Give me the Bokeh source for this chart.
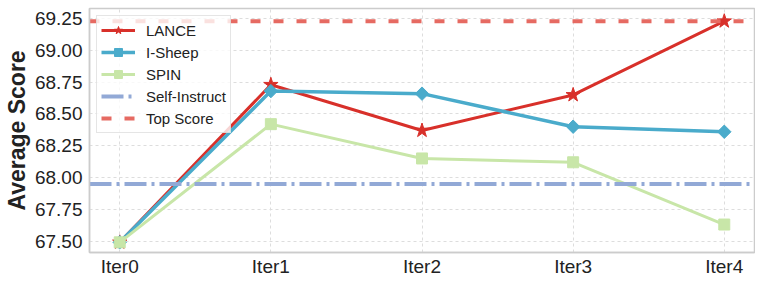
from bokeh.plotting import figure
from bokeh.models import Range1d, FixedTicker
from bokeh.embed import file_html
from bokeh.resources import INLINE
import math

iters = ["Iter0", "Iter1", "Iter2", "Iter3", "Iter4"]
lance = [67.49, 68.73, 68.37, 68.65, 69.23]
isheep = [67.49, 68.68, 68.66, 68.40, 68.36]
spin = [67.49, 68.42, 68.15, 68.12, 67.63]
self_instruct = 67.95
top_score = 69.23
yticks = [67.50, 67.75, 68.00, 68.25, 68.50, 68.75, 69.00, 69.25]

xs = list(range(len(iters)))
x0, x1 = -0.2, len(iters) - 1 + 0.2

p = figure(frame_width=665, frame_height=244, output_backend="svg", toolbar_location=None,
           x_range=Range1d(x0, x1), y_range=Range1d(67.41, 69.33),
           min_border_left=82, min_border_right=1, min_border_top=8, min_border_bottom=0)

p.background_fill_color = "white"
p.outline_line_color = "#cccccc"
p.outline_line_width = 1.5

# grid
for g in (p.xgrid, p.ygrid):
    g.grid_line_color = "#dddddd"
    g.grid_line_dash = "3 3"
    g.grid_line_width = 1
p.xgrid.ticker = FixedTicker(ticks=xs)
p.ygrid.ticker = FixedTicker(ticks=yticks)

# axes
p.xaxis.ticker = FixedTicker(ticks=xs)
p.xaxis.major_label_overrides = {i: s for i, s in enumerate(iters)}
p.yaxis.ticker = FixedTicker(ticks=yticks)
p.yaxis.major_label_overrides = {t: f"{t:.2f}" for t in yticks}
for ax in (p.xaxis, p.yaxis):
    ax.axis_line_color = "#cccccc"
    ax.axis_line_width = 1.5
    ax.major_tick_line_color = None
    ax.minor_tick_line_color = None
    ax.major_tick_out = 0
    ax.major_tick_in = 0
    ax.minor_tick_out = 0
    ax.minor_tick_in = 0
    ax.major_label_text_font = "Liberation Sans"
    ax.major_label_text_font_size = "19px"
    ax.major_label_text_color = "#222222"
p.xaxis.major_label_standoff = 3
p.yaxis.major_label_standoff = 7
p.yaxis.axis_label = "Average Score"
p.yaxis.axis_label_text_font = "Liberation Sans"
p.yaxis.axis_label_text_font_size = "23px"
p.yaxis.axis_label_text_font_style = "bold"
p.yaxis.axis_label_text_color = "#222222"
p.yaxis.axis_label_standoff = 2

c_lance = "#d8302a"
c_isheep = "#4aabcb"
c_spin = "#c8e6a8"
c_self = "#92a9d6"
c_top = "#e66a62"

# LANCE
p.line(xs, lance, line_color=c_lance, line_width=3, legend_label="LANCE")
p.scatter(xs, lance, marker="star", size=15, fill_color=c_lance, line_color=c_lance,
          legend_label="LANCE")
# I-Sheep
p.line(xs, isheep, line_color=c_isheep, line_width=3.5, legend_label="I-Sheep")
p.scatter(xs, isheep, marker="square", angle=math.pi / 4, size=9.5, fill_color=c_isheep,
          line_color=c_isheep, legend_label="I-Sheep")
# SPIN
p.line(xs, spin, line_color=c_spin, line_width=3, legend_label="SPIN")
p.scatter(xs, spin, marker="square", size=11, fill_color=c_spin, line_color=c_spin,
          legend_label="SPIN")
# reference lines
p.line([x0, x1], [self_instruct, self_instruct], line_color=c_self, line_width=4,
       line_dash="22 5 3 5", legend_label="Self-Instruct")
p.line([x0, x1], [top_score, top_score], line_color=c_top, line_width=4,
       line_dash="10 13", legend_label="Top Score")

lg = p.legend[0]
lg.location = "top_left"
lg.margin = 7
lg.padding = 4
lg.spacing = 2
lg.glyph_width = 34
lg.glyph_height = 20
lg.label_text_font = "Liberation Sans"
lg.label_text_font_size = "15px"
lg.label_text_color = "#222222"
lg.label_standoff = 11
lg.border_line_color = "#cccccc"
lg.border_line_width = 1
lg.background_fill_alpha = 0.8

open("out.html", "w").write(file_html(p, INLINE))
